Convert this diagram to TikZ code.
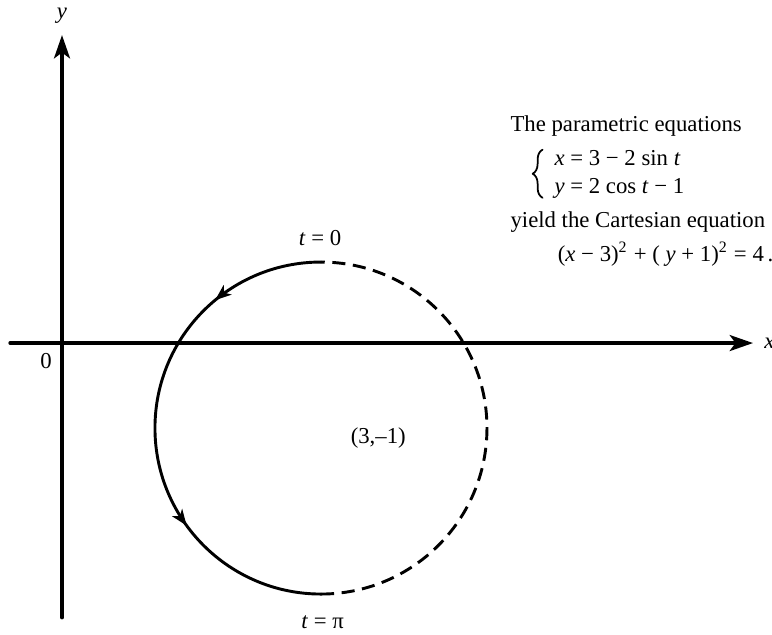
\documentclass[tikz,border=0pt]{standalone}
\usepackage{fontspec}
\setmainfont{Liberation Serif}
\usetikzlibrary{arrows.meta,decorations.markings,decorations.pathreplacing}
\newcommand{\mi}[1]{\textit{#1}}

\begin{document}
\begin{tikzpicture}[line join=round,line cap=round,>={Stealth[length=8pt,width=5.5pt,inset=2pt]},font=\fontsize{7.8pt}{9.4pt}\selectfont]
	\useasboundingbox (-0.747,-3.506) rectangle (8.554,4.133);
	\tikzset{
		axis/.style={line width=1.1pt},
		arc solid/.style={line width=1pt},
		arc dashed/.style={line width=1pt,line cap=butt,dash pattern=on 4.5pt off 2.6pt},
		eqline/.style={anchor=west,inner ysep=0.5pt},
		sysbrace/.style={line width=0.6pt,decorate,decoration={brace,amplitude=3.4pt}},
		flow/.style={postaction={decorate},decoration={markings,
			mark=at position 0.22 with {\arrow{Stealth[length=5.5pt,width=4.2pt,inset=1.5pt]}},
			mark=at position 0.70 with {\arrow{Stealth[length=5.5pt,width=4.2pt,inset=1.5pt]}}}}
	}
	
	% Axes
	\coordinate (O) at (0,0);
	\draw[axis,->] (-0.627,0)--(8.325,0) node[right] (xlab) {\mi{x}};
	\draw[axis,->] (0,-3.31)--(0,3.71) node[above] (ylab) {\mi{y}};
	\node[below left] (zero) at (O) {0};
	
	% Circle (x-3)^2+(y+1)^2=4
	\coordinate (C) at (3.12,-1.024);
	\draw[arc solid,flow] ([shift={(90:2)}]C) arc (90:270:2);
	\draw[arc dashed] ([shift={(-90:2)}]C) arc (-90:90:2);
	
	% Labels
	\node (tzero) at (3.11,1.265) {\mi{t} = 0};
	\node (tpi) at (3.14,-3.36) {\mi{t} = π};
	\node (ctr) at (3.81,-1.145) {(3,–1)};
	
	% Equations
	\node[eqline] (txta) at (5.28,2.614) {The parametric equations};
	\node[eqline] (xeq) at (5.81,2.23) {\mi{x} = 3 − 2 sin \mi{t}};
	\node[eqline] (yeq) at (5.81,1.86) {\mi{y} = 2 cos \mi{t} − 1};
	\coordinate (bratop) at (5.79,2.33);
	\coordinate (brabot) at (5.79,1.75);
	\draw[sysbrace] (brabot) -- (bratop);
	\node[eqline] (txtb) at (5.28,1.458) {yield the Cartesian equation};
	\node[eqline] (cart) at (5.85,1.072) {(\mi{x} − 3)\textsuperscript{2} + ( \mi{y} + 1)\textsuperscript{2} = 4\,.};
\end{tikzpicture}
\end{document}
